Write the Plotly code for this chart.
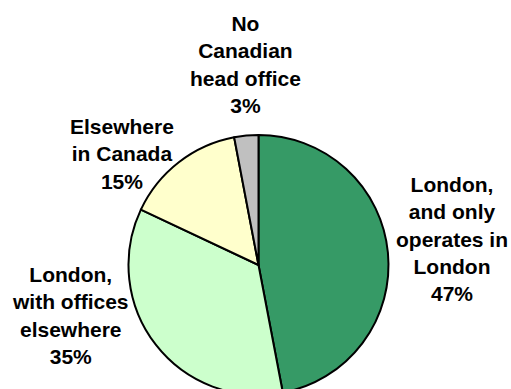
import plotly.graph_objects as go

# Location of head office, share of firms
categories = [
    "London, and only operates in London",
    "London, with offices elsewhere",
    "Elsewhere in Canada",
    "No Canadian head office",
]
shares = [47, 35, 15, 3]
label_lines = [
    ["London,", "and only", "operates in", "London"],
    ["London,", "with offices", "elsewhere"],
    ["Elsewhere", "in Canada"],
    ["No", "Canadian", "head office"],
]
colors = ["#369A66", "#CCFFCC", "#FFFFCC", "#C0C0C0"]

W, H = 511, 400

# pie placement in pixels (centre and radius)
cx, cy, r = 258.5, 265, 130

# label block centres in pixels
label_pos = [(452, 239), (70, 315), (122, 154), (245, 64)]

fig = go.Figure(
    go.Pie(
        labels=categories,
        values=shares,
        sort=False,
        direction="clockwise",
        rotation=0,
        textinfo="none",
        hoverinfo="label+percent",
        marker=dict(colors=colors, line=dict(color="#000000", width=2)),
        domain=dict(
            x=[(cx - r) / W, (cx + r) / W],
            y=[(H - cy - r) / H, (H - cy + r) / H],
        ),
        showlegend=False,
    )
)

for lines, val, (px, py) in zip(label_lines, shares, label_pos):
    text = "<br>".join(f"<b>{t}</b>" for t in lines + [f"{val}%"])
    fig.add_annotation(
        x=px / W,
        y=(H - py) / H,
        xref="paper",
        yref="paper",
        text=text,
        showarrow=False,
        align="center",
        xanchor="center",
        yanchor="middle",
        font=dict(family="Liberation Sans, Arial, sans-serif", size=21, color="#000000"),
    )

fig.update_layout(
    width=W,
    height=H,
    margin=dict(l=0, r=0, t=0, b=0),
    paper_bgcolor="#FFFFFF",
    plot_bgcolor="#FFFFFF",
)

fig.write_html(
    "out.html",
    config={"displayModeBar": False},
    post_script="document.body.style.overflow='hidden';document.documentElement.style.overflow='hidden';",
)
